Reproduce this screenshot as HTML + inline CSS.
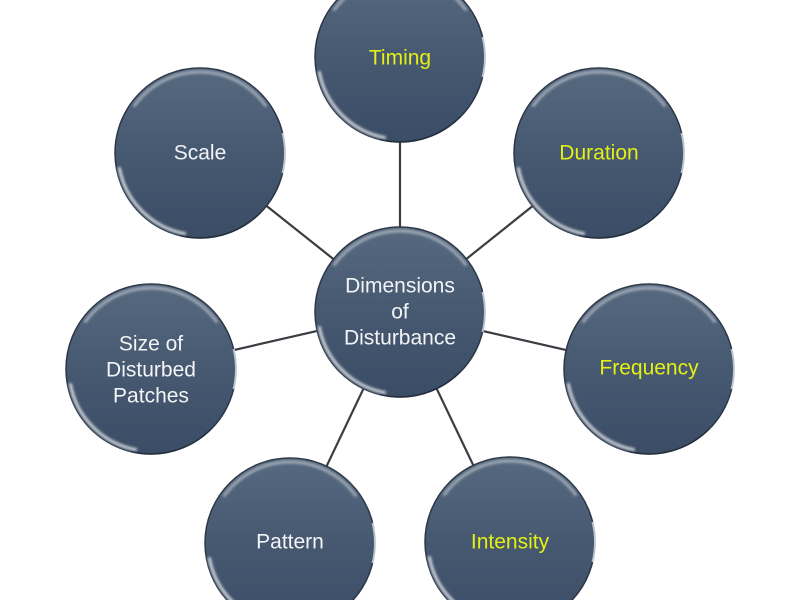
<!DOCTYPE html>
<html>
<head>
<meta charset="utf-8">
<style>
  html,body{margin:0;padding:0;background:#ffffff;}
  svg{display:block;}
  text{font-family:"Liberation Sans",sans-serif;font-size:21px;}
</style>
</head>
<body>
<svg width="800" height="600" viewBox="0 0 800 600" xmlns="http://www.w3.org/2000/svg">
  <defs>
    <linearGradient id="fillg" x1="0" y1="0" x2="0" y2="1">
      <stop offset="0" stop-color="#56697f"/>
      <stop offset="0.5" stop-color="#465971"/>
      <stop offset="1" stop-color="#3b4d66"/>
    </linearGradient>
    <filter id="blur1" x="-20%" y="-20%" width="140%" height="140%">
      <feGaussianBlur stdDeviation="1.2"/>
    </filter>
    <g id="ball">
      <circle cx="0" cy="0" r="85" fill="url(#fillg)" stroke="#2c3848" stroke-width="1.5"/>
      <path d="M -66.3 -46.5 A 81 81 0 0 1 66.3 -46.5" fill="none" stroke="#ffffff" stroke-opacity="0.45" stroke-width="3" filter="url(#blur1)"/>
      <path d="M -14.2 80.8 A 82 82 0 0 1 -80.8 14.2" fill="none" stroke="#ffffff" stroke-opacity="0.75" stroke-width="3" filter="url(#blur1)"/>
      <path d="M 82.6 -20 A 85 85 0 0 1 82.6 20" fill="none" stroke="#dfe6ee" stroke-opacity="0.8" stroke-width="2"/>
      <path d="M 60 60 A 85 85 0 0 1 -20 82.6" fill="none" stroke="#1f2833" stroke-opacity="0.6" stroke-width="1.5"/>
    </g>
  </defs>

  <!-- connectors -->
  <g stroke="#3a3d42" stroke-width="2.2">
    <line x1="400" y1="312" x2="400" y2="57"/>
    <line x1="400" y1="312" x2="599" y2="153"/>
    <line x1="400" y1="312" x2="649" y2="369"/>
    <line x1="400" y1="312" x2="510" y2="542"/>
    <line x1="400" y1="312" x2="290" y2="543"/>
    <line x1="400" y1="312" x2="151" y2="369"/>
    <line x1="400" y1="312" x2="200" y2="153"/>
  </g>

  <!-- balls -->
  <use href="#ball" x="400" y="57"/>
  <use href="#ball" x="599" y="153"/>
  <use href="#ball" x="649" y="369"/>
  <use href="#ball" x="510" y="542"/>
  <use href="#ball" x="290" y="543"/>
  <use href="#ball" x="151" y="369"/>
  <use href="#ball" x="200" y="153"/>
  <use href="#ball" x="400" y="312"/>

  <!-- labels -->
  <g text-anchor="middle" dominant-baseline="central">
    <text x="400" y="58" fill="#e4ef14">Timing</text>
    <text x="599" y="153" fill="#e4ef14">Duration</text>
    <text x="649" y="368" fill="#e4ef14">Frequency</text>
    <text x="510" y="542" fill="#e4ef14">Intensity</text>
    <text x="290" y="542" fill="#f2f4f6">Pattern</text>
    <text x="200" y="153" fill="#f2f4f6">Scale</text>
    <text x="151" y="344" fill="#f2f4f6">Size of</text>
    <text x="151" y="370" fill="#f2f4f6">Disturbed</text>
    <text x="151" y="396" fill="#f2f4f6">Patches</text>
    <text x="400" y="286" fill="#f2f4f6">Dimensions</text>
    <text x="400" y="312" fill="#f2f4f6">of</text>
    <text x="400" y="338" fill="#f2f4f6">Disturbance</text>
  </g>
</svg>
</body>
</html>
